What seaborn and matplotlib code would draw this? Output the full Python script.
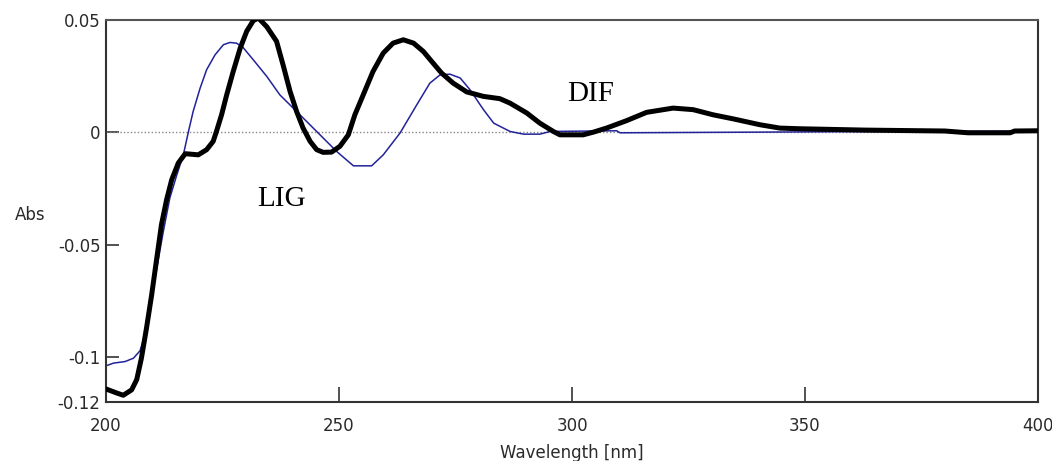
import matplotlib
matplotlib.use("Agg")
import matplotlib.pyplot as plt
import seaborn as sns
import pandas as pd
from matplotlib.ticker import FixedLocator

# ---- data ----
dif_wl = [200, 202.3, 203.7, 205.5, 206.6, 207.6, 208.7, 209.8, 210.8, 211.9, 213, 214.1,
          215.5, 217, 219.8, 221.6, 223, 223.7, 224.8, 225.9, 227.3, 228.8, 230.2, 231.6,
          232.7, 234.5, 236.6, 238, 239.5, 240.9, 242.3, 243.8, 245.2, 246.6, 248.4, 250.2,
          252, 253.4, 255.2, 257.3, 259.5, 261.6, 263.8, 266, 268.1, 270.2, 272, 274.5,
          277.4, 281, 284.5, 286.7, 290.3, 293.1, 296, 297.4, 302.4, 304.6, 307.4, 311.7,
          316, 321.7, 326, 330.3, 334.6, 340.3, 344.6, 348.9, 363, 380, 385, 394, 395, 400]
dif_abs = [-0.1142, -0.116, -0.117, -0.1146, -0.110, -0.1005, -0.087, -0.0723, -0.0574,
           -0.0411, -0.030, -0.0211, -0.0137, -0.0095, -0.010, -0.0077, -0.004, 0.0004,
           0.0078, 0.0167, 0.0271, 0.0375, 0.045, 0.0497, 0.0509, 0.047, 0.0405, 0.030,
           0.0182, 0.0093, 0.0019, -0.004, -0.0077, -0.0089, -0.0088, -0.0062, -0.0011,
           0.0078, 0.0167, 0.0271, 0.0353, 0.0397, 0.0412, 0.0397, 0.036, 0.0308, 0.0264,
           0.0219, 0.0180, 0.0160, 0.0150, 0.013, 0.0086, 0.0041, 0.0004, -0.0011, -0.0011,
           0.0001, 0.0019, 0.0052, 0.0089, 0.0108, 0.0101, 0.0078, 0.006, 0.0034, 0.0019,
           0.0016, 0.001, 0.0006, -0.0002, -0.0002, 0.0006, 0.0007]

lig_wl = [200, 201.6, 204.1, 205.9, 207.3, 208.4, 209.4, 210.9, 212.3, 213.7, 215.2, 216.6,
          217.7, 218.7, 220.2, 221.6, 223.4, 225.2, 226.6, 228, 229.4, 231.6, 234.5, 237.3,
          240.9, 245.2, 249.5, 253.1, 257, 259.5, 263.1, 266.7, 269.5, 271.7, 273.8, 276,
          278.1, 281, 283.2, 286.7, 289.6, 293.1, 295.3, 309.6, 310.3, 330, 360, 390, 400]
lig_abs = [-0.1039, -0.1027, -0.102, -0.1005, -0.0972, -0.090, -0.0767, -0.0604, -0.0441,
           -0.0292, -0.0189, -0.010, 0.0004, 0.0093, 0.0197, 0.0279, 0.0345, 0.039, 0.040,
           0.0397, 0.0378, 0.0323, 0.0249, 0.0167, 0.0093, 0.0004, -0.0085, -0.0149,
           -0.0149, -0.010, -0.0003, 0.0123, 0.0219, 0.0256, 0.0259, 0.0242, 0.019, 0.0101,
           0.0041, 0.0004, -0.0008, -0.0008, 0.0004, 0.0007, -0.0002, 0.0, 0.0003, 0.0005,
           0.0007]

ytick_vals = [-0.12, -0.1, -0.05, 0, 0.05]
ytick_labels = ["-0.12", "-0.1", "-0.05", "0", "0.05"]
yminor_vals = [-0.075, -0.025, 0.025]
xtick_vals = [200, 250, 300, 350, 400]
xminor_vals = [225, 275, 325, 375]

dif_df = pd.DataFrame({"Wavelength": dif_wl, "Abs": dif_abs})
lig_df = pd.DataFrame({"Wavelength": lig_wl, "Abs": lig_abs})

sns.set_theme(style="white")
plt.rcParams["font.family"] = ["DejaVu Sans"]

fig = plt.figure(figsize=(10.52, 4.61), dpi=100)
ax = fig.add_axes([106 / 1052, 1 - 402 / 461, (1038 - 106) / 1052, (402 - 20) / 461])

ax.axhline(0, color="#888888", lw=1.0, ls=(0, (1, 1.5)), zorder=1)
sns.lineplot(data=lig_df, x="Wavelength", y="Abs", ax=ax, color="#22229a",
             lw=1.1, estimator=None, zorder=2)
sns.lineplot(data=dif_df, x="Wavelength", y="Abs", ax=ax, color="black",
             lw=3.6, estimator=None, zorder=3)

ax.set_xlim(200, 400)
ax.set_ylim(-0.12, 0.05)

ax.set_yticks(ytick_vals)
ax.set_yticklabels(ytick_labels)
ax.yaxis.set_minor_locator(FixedLocator(yminor_vals))
ax.set_xticks(xtick_vals)
ax.set_xticklabels([str(v) for v in xtick_vals])
ax.xaxis.set_minor_locator(FixedLocator(xminor_vals))

ax.tick_params(axis="y", which="major", direction="in", length=9, width=1.2,
               color="#333333", labelsize=12, pad=4, labelcolor="#2a2a2a")
ax.tick_params(axis="y", which="minor", direction="in", length=4, width=1.2, color="#333333")
ax.tick_params(axis="x", which="major", direction="in", length=11, width=1.2,
               color="#333333", labelsize=12, pad=11, labelcolor="#2a2a2a")
ax.tick_params(axis="x", which="minor", direction="in", length=5, width=1.2, color="#333333")
ax.tick_params(left=True, bottom=True)

for side, sp in ax.spines.items():
    sp.set_visible(True)
    sp.set_color("#333333")
    sp.set_linewidth(1.5)
ax.spines["top"].set_color("#555555")

ax.set_xlabel("Wavelength [nm]", fontsize=12, color="#2a2a2a", labelpad=6)
ax.set_ylabel("Abs", fontsize=12, rotation=0, color="#2a2a2a")
ax.yaxis.set_label_coords(-0.081, 0.466)

ax.text(237.6, -0.0328, "LIG", fontsize=21, family=["Liberation Serif", "DejaVu Serif"],
        ha="center", va="baseline", color="black")
ax.text(304.1, 0.0139, "DIF", fontsize=21, family=["Liberation Serif", "DejaVu Serif"],
        ha="center", va="baseline", color="black")

ax.grid(False)
fig.savefig("out.png", dpi=100)
